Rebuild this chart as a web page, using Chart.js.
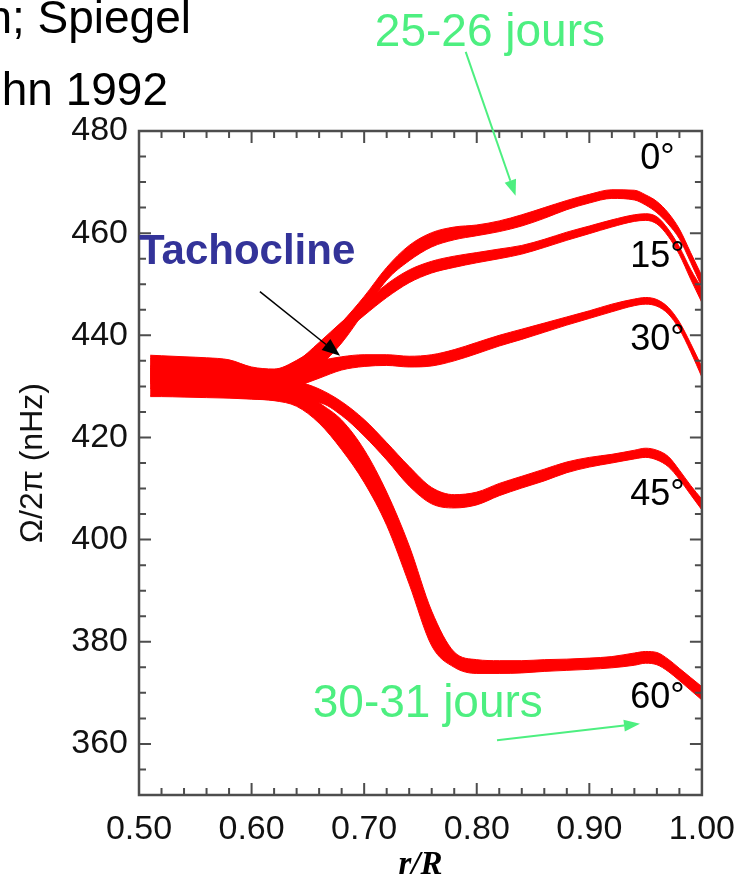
<!DOCTYPE html>
<html>
<head>
<meta charset="utf-8">
<script src="https://cdn.jsdelivr.net/npm/chart.js@4.4.1/dist/chart.umd.min.js"></script>
<style>
  html, body { margin: 0; padding: 0; background: #ffffff; }
  canvas { display: block; }
</style>
</head>
<body>
<canvas id="rotation" width="749" height="885"></canvas>
<script>
// Fractional radius r/R where the inverted rotation rate is sampled
const radius = [0.51, 0.52, 0.54, 0.56, 0.58, 0.60, 0.62, 0.64,
                0.66, 0.68, 0.70, 0.72, 0.74, 0.76, 0.78, 0.80,
                0.82, 0.84, 0.86, 0.88, 0.90, 0.92, 0.94,
                0.95, 0.96, 0.97, 0.98, 0.99, 1.00];

// Upper and lower edges of the Ω/2π uncertainty band (nHz), one pair per latitude
const lat0Upper  = [436.1, 436.0, 435.8, 435.6, 435.2, 433.8, 433.4, 435.1,
                    438.1, 442.5, 447.6, 453.3, 457.6, 460.1, 461.2, 461.6,
                    462.4, 463.6, 465.0, 466.4, 467.6, 468.5, 468.4,
                    467.5, 466.2, 464.0, 460.8, 456.2, 451.6];
const lat0Lower  = [431.0, 431.0, 430.9, 430.8, 430.6, 429.8, 429.6, 431.5,
                    434.0, 438.5, 444.6, 450.8, 454.6, 457.3, 458.7, 459.5,
                    460.3, 461.4, 462.9, 464.6, 465.9, 466.8, 466.5,
                    465.5, 464.0, 461.8, 458.9, 454.3, 449.4];

const lat15Upper = [435.9, 435.8, 435.6, 435.4, 435.0, 433.6, 433.3, 434.9,
                    438.6, 442.6, 446.2, 450.0, 452.8, 454.5, 455.5, 456.2,
                    456.9, 457.6, 458.8, 460.2, 461.4, 462.6, 463.6,
                    463.8, 463.2, 460.8, 457.3, 452.9, 449.2];
const lat15Lower = [430.6, 430.6, 430.5, 430.4, 430.2, 429.5, 429.3, 431.0,
                    436.3, 440.2, 443.9, 447.4, 450.3, 452.2, 453.3, 454.2,
                    455.0, 455.9, 457.2, 458.6, 459.9, 461.2, 462.3,
                    462.5, 461.8, 459.4, 455.8, 451.0, 446.4];

const lat30Upper = [435.5, 435.4, 435.2, 435.0, 434.6, 433.4, 433.2, 434.0,
                    435.0, 435.8, 436.2, 436.2, 435.9, 436.2, 437.2, 438.6,
                    440.0, 441.2, 442.4, 443.6, 444.8, 446.1, 447.1,
                    447.4, 447.0, 445.5, 442.6, 438.4, 433.8];
const lat30Lower = [429.6, 429.6, 429.5, 429.4, 429.2, 428.8, 428.7, 430.0,
                    431.6, 433.2, 433.9, 434.1, 433.8, 434.0, 435.0, 436.4,
                    437.9, 439.2, 440.6, 442.0, 443.3, 444.6, 445.8,
                    446.1, 445.7, 444.2, 441.2, 436.8, 431.8];

const lat45Upper = [434.0, 434.0, 433.8, 433.7, 433.5, 432.4, 431.8, 431.0,
                    429.5, 427.0, 423.5, 419.0, 414.3, 410.2, 408.8, 409.3,
                    411.0, 412.4, 413.8, 415.2, 416.1, 416.7, 417.5,
                    417.9, 417.5, 416.3, 413.6, 410.6, 407.9];
const lat45Lower = [428.2, 428.2, 428.1, 428.0, 427.9, 427.6, 427.3, 427.0,
                    426.8, 424.3, 420.3, 415.6, 410.5, 407.0, 406.2, 406.8,
                    408.6, 410.1, 411.5, 413.1, 414.2, 415.0, 415.8,
                    416.1, 415.6, 414.3, 411.8, 408.8, 405.8];

const lat60Upper = [433.5, 433.5, 433.3, 433.2, 433.0, 432.0, 431.3, 430.0,
                    426.8, 423.4, 417.6, 409.3, 398.8, 386.0, 378.0, 376.5,
                    376.3, 376.3, 376.5, 376.6, 376.8, 377.1, 377.8,
                    378.1, 377.9, 376.6, 374.8, 373.0, 371.2];
const lat60Lower = [428.0, 428.0, 427.9, 427.8, 427.7, 427.5, 427.2, 426.1,
                    422.8, 417.6, 411.2, 402.8, 391.3, 379.2, 375.0, 373.8,
                    373.8, 373.9, 374.2, 374.4, 374.6, 374.9, 375.4,
                    375.8, 375.5, 374.2, 372.4, 370.5, 368.6];

const latitudeLabels = ['0°', '15°', '30°', '45°', '60°'];
const xTickValues = [0.50, 0.60, 0.70, 0.80, 0.90, 1.00];
const yTickValues = [360, 380, 400, 420, 440, 460, 480];

const SANS = "'Liberation Sans', Arial, Helvetica, sans-serif";
const SERIF = "'Liberation Serif', 'Times New Roman', serif";
const BAND_RED = '#ff0000';
const FRAME = '#4d4d4d';
const GREEN = '#4def80';

const bands = [
  [lat0Upper, lat0Lower], [lat15Upper, lat15Lower], [lat30Upper, lat30Lower],
  [lat45Upper, lat45Lower], [lat60Upper, lat60Lower]
];

const toPoints = arr => radius.map((r, i) => ({ x: r, y: arr[i] }));

// Each latitude is an upper curve filled down to its lower curve
const datasets = [];
bands.forEach(([hi, lo], k) => {
  const common = {
    borderColor: BAND_RED, backgroundColor: BAND_RED, borderWidth: 1,
    pointRadius: 0, cubicInterpolationMode: 'monotone'
  };
  datasets.push(Object.assign({ label: latitudeLabels[k] + ' haut', data: toPoints(hi), fill: '+1' }, common));
  datasets.push(Object.assign({ label: latitudeLabels[k] + ' bas', data: toPoints(lo), fill: false }, common));
});

function drawArrow(ctx, x1, y1, x2, y2, color, width, headLen, headW) {
  const ang = Math.atan2(y2 - y1, x2 - x1);
  const bx = x2 - headLen * Math.cos(ang), by = y2 - headLen * Math.sin(ang);
  ctx.strokeStyle = color; ctx.lineWidth = width;
  ctx.beginPath(); ctx.moveTo(x1, y1); ctx.lineTo(bx, by); ctx.stroke();
  ctx.fillStyle = color;
  ctx.beginPath();
  ctx.moveTo(x2, y2);
  ctx.lineTo(bx + headW / 2 * Math.sin(ang), by - headW / 2 * Math.cos(ang));
  ctx.lineTo(bx - headW / 2 * Math.sin(ang), by + headW / 2 * Math.cos(ang));
  ctx.closePath(); ctx.fill();
}

// Box frame with inward ticks on all sides, plus the annotations
const frameAndNotes = {
  id: 'frameAndNotes',
  afterDraw(chart) {
    const { ctx, chartArea: a, scales: { x, y } } = chart;
    ctx.save();

    ctx.strokeStyle = FRAME;
    ctx.lineWidth = 2;
    ctx.beginPath();
    const xMinor = 0.02, nx = Math.round((x.max - x.min) / xMinor);
    for (let i = 1; i < nx; i++) {
      const px = x.getPixelForValue(x.min + i * xMinor);
      const len = i % 5 === 0 ? 12 : 7;
      ctx.moveTo(px, a.bottom); ctx.lineTo(px, a.bottom - len);
      ctx.moveTo(px, a.top); ctx.lineTo(px, a.top + len);
    }
    const yMinor = 5, ny = Math.round((y.max - y.min) / yMinor);
    for (let i = 1; i < ny; i++) {
      const v = y.min + i * yMinor;
      const py = y.getPixelForValue(v);
      const len = (v - yTickValues[0]) % 20 === 0 ? 12 : 7;
      ctx.moveTo(a.left, py); ctx.lineTo(a.left + len, py);
      ctx.moveTo(a.right, py); ctx.lineTo(a.right - len, py);
    }
    ctx.stroke();
    ctx.lineWidth = 2.5;
    ctx.strokeRect(a.left, a.top, a.right - a.left, a.bottom - a.top);

    const X = v => x.getPixelForValue(v);
    const Y = v => y.getPixelForValue(v);

    // latitude labels
    ctx.fillStyle = '#000';
    ctx.font = '36px ' + SANS;
    ctx.textAlign = 'center';
    ctx.textBaseline = 'middle';
    const labelOmega = [474.5, 455.3, 439.1, 408.7, 369.0];
    latitudeLabels.forEach((t, k) => ctx.fillText(t, X(0.9605), Y(labelOmega[k])));

    // tachocline note
    ctx.textAlign = 'left';
    ctx.textBaseline = 'alphabetic';
    ctx.fillStyle = '#333399';
    ctx.font = 'bold 42px ' + SANS;
    ctx.fillText('Tachocline', X(0.5000), Y(454.0));
    drawArrow(ctx, X(0.6074), Y(448.55), X(0.6786), Y(436.0), '#000', 1.5, 18, 14);

    // rotation periods
    ctx.fillStyle = GREEN;
    ctx.font = '46px ' + SANS;
    ctx.fillText('25-26 jours', X(0.7095), Y(496.6));
    ctx.fillText('30-31 jours', X(0.6543), Y(365.3));
    drawArrow(ctx, X(0.7902), Y(495.5), X(0.8345), Y(467.3), GREEN, 2, 16, 12);
    drawArrow(ctx, X(0.818), Y(360.7), X(0.945), Y(363.95), GREEN, 2, 16, 12);

    // reference lines at the top left
    ctx.fillStyle = '#000';
    ctx.textAlign = 'right';
    ctx.fillText('n; Spiegel', 191, 33);
    ctx.fillText('hn 1992', 168, 105);

    ctx.restore();
  }
};

new Chart(document.getElementById('rotation'), {
  type: 'line',
  data: { datasets },
  options: {
    responsive: false,
    animation: false,
    devicePixelRatio: 1,
    layout: { padding: { top: 131, right: 40, left: 0, bottom: 0 } },
    plugins: { legend: { display: false }, tooltip: { enabled: false } },
    scales: {
      x: {
        type: 'linear', min: 0.5, max: 1.0,
        grid: { display: false, drawTicks: false },
        border: { display: false },
        afterBuildTicks: s => { s.ticks = xTickValues.map(v => ({ value: v })); },
        afterFit: s => { s.height = 90; },
        ticks: {
          autoSkip: false, maxRotation: 0, padding: 14, color: '#111',
          font: { family: SANS, size: 34 },
          callback: v => Number(v).toFixed(2)
        },
        title: {
          display: true, text: 'r/R', color: '#000',
          font: { family: SERIF, size: 33, weight: 'bold', style: 'italic' },
          padding: { top: 0, bottom: 0 }
        }
      },
      y: {
        type: 'linear', min: 350, max: 480,
        grid: { display: false, drawTicks: false },
        border: { display: false },
        afterBuildTicks: s => { s.ticks = yTickValues.map(v => ({ value: v })); },
        afterFit: s => { s.width = 139; },
        ticks: {
          autoSkip: false, padding: 11, color: '#111',
          font: { family: SANS, size: 34 }
        },
        title: {
          display: true, text: 'Ω/2π (nHz)', color: '#111',
          font: { family: SANS, size: 32 },
          padding: { top: 14, bottom: 0 }
        }
      }
    }
  },
  plugins: [frameAndNotes]
});
</script>
</body>
</html>
